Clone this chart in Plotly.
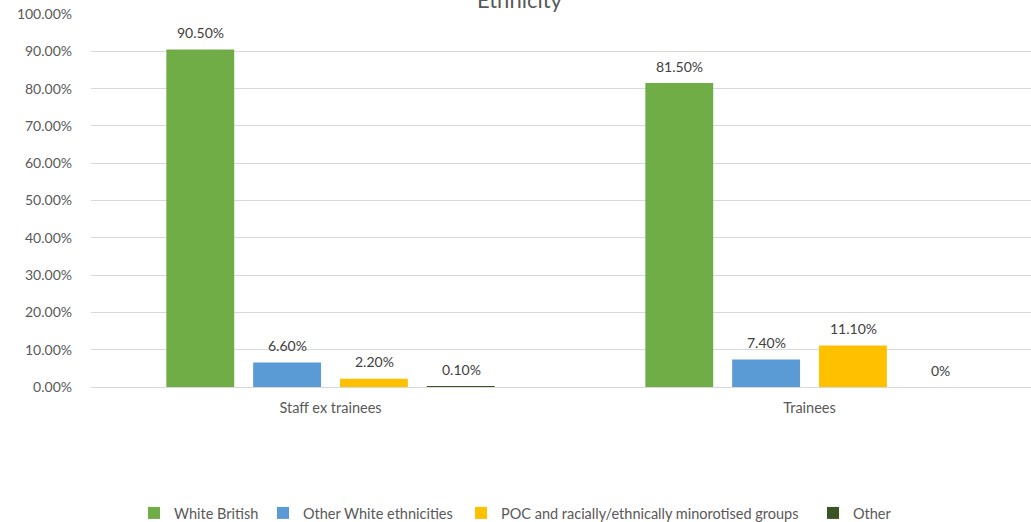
import plotly.graph_objects as go

categories = ["Staff ex trainees", "Trainees"]
series_names = ["White British", "Other White ethnicities",
                "POC and racially/ethnically minorotised groups", "Other"]
white_british = [90.5, 81.5]
other_white = [6.6, 7.4]
poc = [2.2, 11.1]
other = [0.1, 0.0]
y_ticks = [0, 10, 20, 30, 40, 50, 60, 70, 80, 90, 100]
y_tick_labels = [f"{v:.2f}%" for v in y_ticks]

series_values = [white_british, other_white, poc, other]
colors = ["#70AD47", "#5B9BD5", "#FFC000", "#375623"]
FONT = "Lato, 'Open Sans', sans-serif"


def fmt(v):
    return f"{v:.2f}%" if v else "0%"


fig = go.Figure()
legend_keys = ["legend", "legend2", "legend3", "legend4"]
for i, (name, vals, col) in enumerate(zip(series_names, series_values, colors)):
    fig.add_trace(go.Bar(
        x=categories, y=vals, name=name, marker_color=col,
        marker_line_width=0, legend=legend_keys[i],
    ))

# data labels above bars
slot_px = 87
annotations = []
for i, vals in enumerate(series_values):
    for c, v in zip(categories, vals):
        annotations.append(dict(
            x=c, y=v, xref="x", yref="y", text=fmt(v), showarrow=False,
            xshift=(i - 1.5) * slot_px, yshift=17, yanchor="middle",
            font=dict(family=FONT, size=14, color="#404040"),
        ))
annotations.append(dict(
    text="Ethnicity", x=(520 - 91) / 940, xref="paper", y=1, yref="paper",
    showarrow=False, yanchor="middle", yshift=15,
    font=dict(family=FONT, size=22, color="#595959"),
))

text_starts = [174, 303, 501, 853]
legends = {}
for key, ts in zip(legend_keys, text_starts):
    legends[key] = dict(
        xref="container", yref="container", x=(ts - 40) / 1031, y=1 - 513 / 522,
        xanchor="left", yanchor="middle", orientation="h",
        font=dict(family=FONT, size=14.5, color="#595959"),
        bgcolor="rgba(0,0,0,0)", borderwidth=0,
    )

fig.update_layout(
    width=1031, height=522,
    margin=dict(l=91, r=0, t=14, b=135, pad=0),
    paper_bgcolor="white", plot_bgcolor="white",
    barmode="group", bargap=0.275, bargroupgap=0.218,
    annotations=annotations,
    showlegend=True,
    font=dict(family=FONT, size=14, color="#595959"),
    **legends,
)
fig.update_xaxes(
    range=[-0.5, 1.4624], showgrid=False, showline=True, linecolor="#D9D9D9",
    linewidth=1, ticks="", ticklabelstandoff=8,
    tickfont=dict(family=FONT, size=14.5, color="#595959"),
)
fig.update_yaxes(
    range=[0, 100], tickvals=y_ticks, ticktext=y_tick_labels,
    showgrid=True, gridcolor="#D9D9D9", gridwidth=1, zeroline=False,
    ticks="", ticklabelstandoff=18,
    tickfont=dict(family=FONT, size=14, color="#595959"),
)

fig.write_html("out.html")
